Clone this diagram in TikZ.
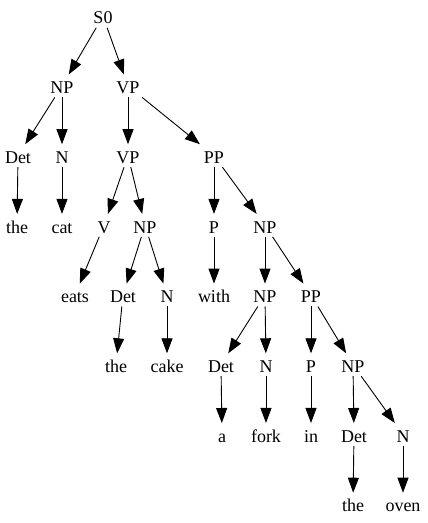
\documentclass[tikz,border=0pt]{standalone}
\usepackage{fontspec}
\setmainfont{Liberation Serif}
\newfontfamily\tmsfont{Liberation Serif}
\usetikzlibrary{arrows.meta}
\begin{document}
\begin{tikzpicture}[x=1pt,y=1pt,
  tn/.style={inner sep=0pt, minimum width=40pt, text height=19pt, text depth=3.5pt, anchor=base, font=\tmsfont\fontsize{18}{20}\selectfont},
  edge/.style={line width=0.9pt, -{Triangle[length=15pt,width=11pt]}}]
\useasboundingbox (0,0) rectangle (428,523);
\def\ra{499}
\def\rb{429.3}
\def\rc{359.6}
\def\rd{289.9}
\def\re{220.2}
\def\rf{150.5}
\def\rg{80.8}
\def\rh{11.1}
\node[tn] (s0) at (103,\ra) {S0};
\node[tn] (np1) at (62,\rb) {NP};
\node[tn] (vp1) at (128,\rb) {VP};
\node[tn] (det1) at (18,\rc) {Det};
\node[tn] (n1) at (62,\rc) {N};
\node[tn] (vp2) at (128,\rc) {VP};
\node[tn] (pp1) at (214,\rc) {PP};
\node[tn] (the1) at (17,\rd) {the};
\node[tn] (cat) at (62,\rd) {cat};
\node[tn] (v) at (104,\rd) {V};
\node[tn] (np2) at (145,\rd) {NP};
\node[tn] (p1) at (214,\rd) {P};
\node[tn] (np3) at (265,\rd) {NP};
\node[tn] (eats) at (75,\re) {eats};
\node[tn] (det2) at (123,\re) {Det};
\node[tn] (n2) at (167,\re) {N};
\node[tn] (with) at (214,\re) {with};
\node[tn] (np4) at (265,\re) {NP};
\node[tn] (pp2) at (311,\re) {PP};
\node[tn] (the2) at (116,\rf) {the};
\node[tn] (cake) at (167,\rf) {cake};
\node[tn] (det3) at (221,\rf) {Det};
\node[tn] (n3) at (266,\rf) {N};
\node[tn] (p2) at (311,\rf) {P};
\node[tn] (np5) at (353,\rf) {NP};
\node[tn] (a) at (222,\rg) {a};
\node[tn] (fork) at (266,\rg) {fork};
\node[tn] (in) at (311,\rg) {in};
\node[tn] (det4) at (354,\rg) {Det};
\node[tn] (n4) at (403,\rg) {N};
\node[tn] (the3) at (353,\rh) {the};
\node[tn] (oven) at (403,\rh) {oven};
\draw[edge] (s0) -- (np1);
\draw[edge] (s0) -- (vp1);
\draw[edge] (np1) -- (det1);
\draw[edge] (np1) -- (n1);
\draw[edge] (vp1) -- (vp2);
\draw[edge] (vp1) -- (pp1);
\draw[edge] (det1) -- (the1);
\draw[edge] (n1) -- (cat);
\draw[edge] (vp2) -- (v);
\draw[edge] (vp2) -- (np2);
\draw[edge] (pp1) -- (p1);
\draw[edge] (pp1) -- (np3);
\draw[edge] (v) -- (eats);
\draw[edge] (np2) -- (det2);
\draw[edge] (np2) -- (n2);
\draw[edge] (p1) -- (with);
\draw[edge] (np3) -- (np4);
\draw[edge] (np3) -- (pp2);
\draw[edge] (det2) -- (the2);
\draw[edge] (n2) -- (cake);
\draw[edge] (np4) -- (det3);
\draw[edge] (np4) -- (n3);
\draw[edge] (pp2) -- (p2);
\draw[edge] (pp2) -- (np5);
\draw[edge] (det3) -- (a);
\draw[edge] (n3) -- (fork);
\draw[edge] (p2) -- (in);
\draw[edge] (np5) -- (det4);
\draw[edge] (np5) -- (n4);
\draw[edge] (det4) -- (the3);
\draw[edge] (n4) -- (oven);
\end{tikzpicture}
\end{document}
